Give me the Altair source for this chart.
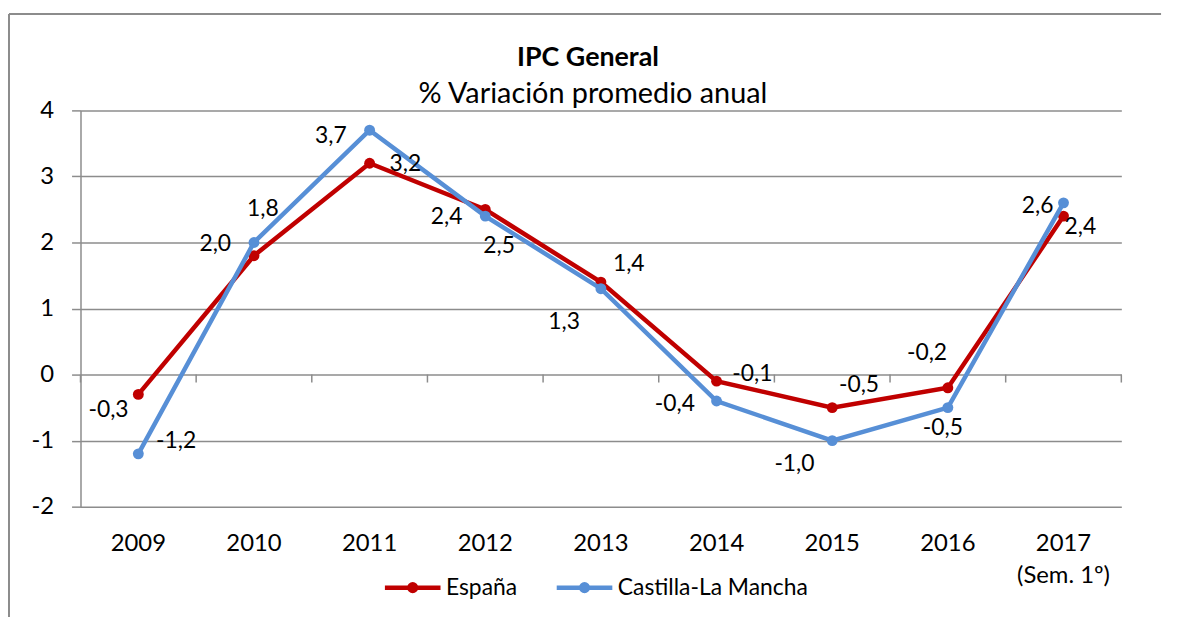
import altair as alt
import pandas as pd

# ---------------- data ----------------
years = ["2009", "2010", "2011", "2012", "2013", "2014", "2015", "2016", "2017"]
year_labels = ["2009", "2010", "2011", "2012", "2013", "2014", "2015", "2016", "2017|(Sem. 1º)"]
series_names = ["España", "Castilla-La Mancha"]
espana = [-0.3, 1.8, 3.2, 2.5, 1.4, -0.1, -0.5, -0.2, 2.4]
clm = [-1.2, 2.0, 3.7, 2.4, 1.3, -0.4, -1.0, -0.5, 2.6]
y_ticks = [-2, -1, 0, 1, 2, 3, 4]
title_text = "IPC General"
subtitle_text = "% Variación promedio anual"

# label placement offsets (pixels) for the data labels
esp_dx = [-30, 9, 36, 14, 28, 36, 27, -21, 17]
esp_dy = [16, -47, 1, 37, -18, -7, -23, -35, 11]
clm_dx = [38, -39, -39, -39, -37, -42, -38, -5, -26]
clm_dy = [-13, 2, 6, 1, 34, 3, 24, 21, 3]

colors = ["#C00000", "#578FD6"]
FONT = "Lato"
GRID = "#8C8C8C"

rows = []
for s, vals in [(series_names[0], espana), (series_names[1], clm)]:
    for y, v in zip(years, vals):
        rows.append({"year": y, "series": s, "value": v,
                     "label": f"{v:.1f}".replace(".", ",")})
df = pd.DataFrame(rows)

W, H = 1048, 399
PAD = {"left": 73, "top": 101, "right": 48, "bottom": 111}

label_expr = ("split([" + ",".join(f"'{l}'" for l in year_labels) + "][indexof(["
              + ",".join(f"'{y}'" for y in years) + "], datum.value)], '|')")

x_scale = alt.Scale(domain=years, paddingInner=0, paddingOuter=0)
x_axis = alt.Axis(orient="bottom", domain=False, ticks=False, grid=False, labelAngle=0,
                  labelFont=FONT, labelFontSize=24, labelFontWeight="normal",
                  labelColor="black", labelPadding=25, labelLineHeight=32,
                  labelExpr=label_expr)
x_enc = alt.X("year:N", sort=years, title=None, scale=x_scale, axis=x_axis)

y_scale = alt.Scale(domain=[-2, 4], nice=False, zero=False)
y_axis = alt.Axis(values=y_ticks, grid=True, gridColor=GRID, gridWidth=1.5,
                  domain=True, domainColor=GRID, domainWidth=1.5,
                  ticks=True, tickSize=9, tickColor=GRID, tickWidth=1.5,
                  labelFont=FONT, labelFontSize=24, labelFontWeight="normal",
                  labelColor="black", labelPadding=18,
                  labelExpr="toString(datum.value)")
y_enc = alt.Y("value:Q", title=None, scale=y_scale, axis=y_axis)

legend_symbol = "M-1,0H1M-0.12,0A0.12,0.12,0,1,1,0.12,0A0.12,0.12,0,1,1,-0.12,0Z"
color_enc = alt.Color(
    "series:N", title=None,
    scale=alt.Scale(domain=series_names, range=colors),
    legend=alt.Legend(orient="none", legendX=304, legendY=450, direction="horizontal",
                      symbolType=legend_symbol, symbolSize=3136, symbolStrokeWidth=4.5,
                      labelFont=FONT, labelFontSize=23, labelColor="black",
                      labelOffset=3, columnPadding=30, padding=0, labelLimit=500),
)

right_edge = W + 40               # end of the top frame line (view coordinates)
bottom_edge = H + PAD["bottom"]   # canvas bottom edge in view coordinates
one = pd.DataFrame({"k": [0]})
frame_top = alt.Chart(one).mark_rule(color=GRID, strokeWidth=2).encode(
    x=alt.value(-72), x2=alt.value(right_edge), y=alt.value(-97))
frame_left = alt.Chart(one).mark_rule(color=GRID, strokeWidth=2).encode(
    x=alt.value(-72), y=alt.value(-97), y2=alt.value(bottom_edge))

layers = [frame_top, frame_left]

# zero-line category tick marks (at category boundaries)
ticks = alt.Chart(pd.DataFrame({"year": years})).mark_rule(
    color=GRID, strokeWidth=1.5).encode(
    x=alt.X("year:N", sort=years, title=None, scale=x_scale, axis=x_axis, bandPosition=0),
    y=alt.value(266), y2=alt.value(274))
end_tick = alt.Chart(one).mark_rule(color=GRID, strokeWidth=1.5).encode(
    x=alt.value(W), y=alt.value(266), y2=alt.value(274))
layers += [ticks, end_tick]

for s in series_names:
    base = alt.Chart(df).transform_filter(alt.datum.series == s)
    layers.append(base.mark_line(strokeWidth=4.5).encode(x=x_enc, y=y_enc, color=color_enc))
    layers.append(base.mark_point(filled=True, size=120, opacity=1).encode(
        x=x_enc, y=y_enc, color=color_enc))

for s, dxs, dys in [(series_names[0], esp_dx, esp_dy), (series_names[1], clm_dx, clm_dy)]:
    for yr, dx, dy in zip(years, dxs, dys):
        layers.append(
            alt.Chart(df)
            .transform_filter((alt.datum.series == s) & (alt.datum.year == yr))
            .mark_text(font=FONT, fontSize=23, color="black", align="center",
                       baseline="middle", dx=dx, dy=dy)
            .encode(x=x_enc, y=y_enc, text="label:N")
        )

titles = pd.DataFrame({"t": [title_text]})
subs = pd.DataFrame({"t": [subtitle_text]})
title_mark = alt.Chart(titles).mark_text(font=FONT, fontSize=27, fontWeight="bold",
                                         color="black", align="center",
                                         baseline="alphabetic").encode(
    text="t:N", x=alt.value(511), y=alt.value(-45))
sub_mark = alt.Chart(subs).mark_text(font=FONT, fontSize=29, color="black",
                                     align="center", baseline="alphabetic").encode(
    text="t:N", x=alt.value(516), y=alt.value(-7))
layers += [title_mark, sub_mark]

chart = alt.layer(*layers).properties(
    width=W, height=H,
    autosize=alt.AutoSizeParams(type="none"),
    padding=PAD,
    background="white",
).configure_view(stroke=None)

chart.save("out.html", embed_options={"renderer": "svg", "actions": False})
